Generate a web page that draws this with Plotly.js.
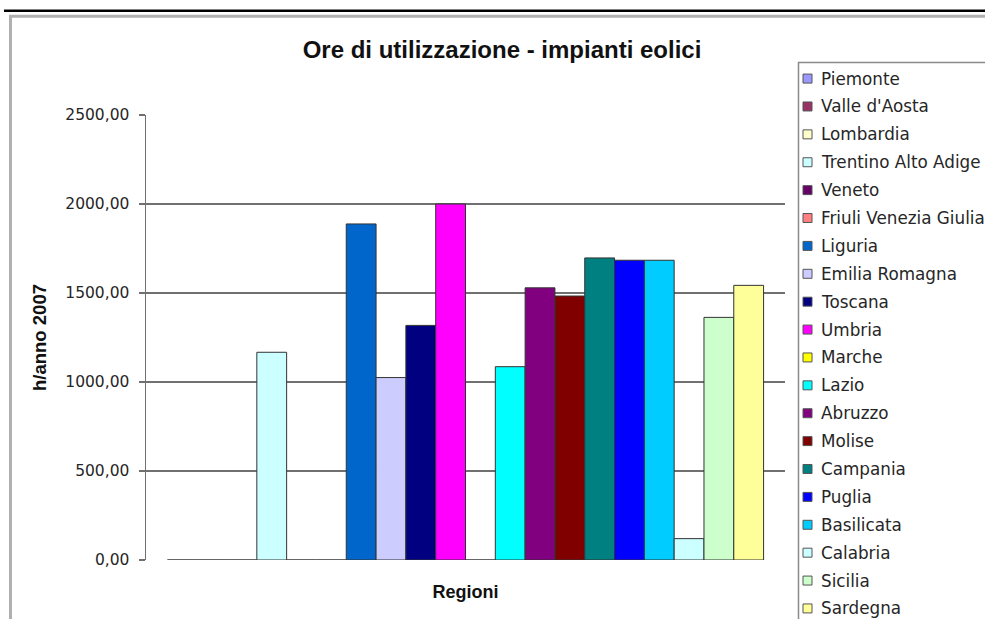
<!DOCTYPE html>
<html>
<head>
<meta charset="utf-8">
<script src="https://cdn.plot.ly/plotly-3.0.1.min.js"></script>
<style>
  html, body { margin: 0; padding: 0; background: #ffffff; }
  #chart { width: 985px; height: 619px; }
</style>
</head>
<body>
<div id="chart"></div>
<script>
// Ore di utilizzazione degli impianti eolici per regione (h/anno, 2007)
const regioni = [
  "Piemonte", "Valle d'Aosta", "Lombardia", "Trentino Alto Adige", "Veneto",
  "Friuli Venezia Giulia", "Liguria", "Emilia Romagna", "Toscana", "Umbria",
  "Marche", "Lazio", "Abruzzo", "Molise", "Campania",
  "Puglia", "Basilicata", "Calabria", "Sicilia", "Sardegna"
];
const oreAnno = [
  0, 0, 0, 1167, 0,
  0, 1888, 1025, 1318, 2000,
  0, 1086, 1529, 1483, 1697,
  1684, 1684, 120, 1363, 1543
];
const colori = [
  "#9999FF", "#993366", "#FFFFCC", "#CCFFFF", "#660066",
  "#FF8080", "#0066CC", "#CCCCFF", "#000080", "#FF00FF",
  "#FFFF00", "#00FFFF", "#800080", "#800000", "#008080",
  "#0000FF", "#00CCFF", "#CCFFFF", "#CCFFCC", "#FFFF99"
];
const categoria = ["Regioni"];
const yTicks = [0, 500, 1000, 1500, 2000, 2500];

// plot area in pixels (used to place the decorations in paper units)
const W = 985, H = 619;
const M = { l: 146, r: 200, t: 114.5, b: 58.5 };
const pw = W - M.l - M.r, ph = H - M.t - M.b;
const px = x => (x - M.l) / pw;
const py = y => (H - M.b - y) / ph;

const traces = regioni.map((nome, i) => ({
  type: "bar",
  name: nome,
  x: categoria,
  y: [oreAnno[i]],
  marker: { color: colori[i], line: { color: "#333333", width: 1 } },
  showlegend: false,
  hoverinfo: "name+y"
}));

const shapes = [
  // top rule and outer frame
  { type: "line", xref: "paper", yref: "paper", x0: px(4), x1: px(990), y0: py(10), y1: py(10),
    line: { color: "#000000", width: 2.5 } },
  { type: "rect", xref: "paper", yref: "paper", x0: px(10.5), x1: px(1000), y0: py(15.5), y1: py(640),
    line: { color: "#b0b0b0", width: 3 } },
  // legend frame
  { type: "rect", xref: "paper", yref: "paper", x0: px(798.5), x1: px(1000), y0: py(62), y1: py(640),
    line: { color: "#8a8a8a", width: 1.5 } }
];
const annotations = [];

// legend entries: swatch + label
const legTop = 78, legStep = 27.95;
regioni.forEach((nome, i) => {
  const cy = legTop + i * legStep;
  shapes.push({
    type: "rect", xref: "paper", yref: "paper",
    x0: px(803), x1: px(812), y0: py(cy + 4.5), y1: py(cy - 4.5),
    fillcolor: colori[i], line: { color: "#555555", width: 1 }
  });
  annotations.push({
    xref: "paper", yref: "paper", x: px(819), y: py(cy),
    xanchor: "left", yanchor: "middle", showarrow: false,
    text: nome, font: { family: "DejaVu Sans, sans-serif", size: 16.8, color: "#262626" }
  });
});

const layout = {
  width: W, height: H,
  margin: M,
  paper_bgcolor: "#ffffff",
  plot_bgcolor: "#ffffff",
  separators: ",.",
  barmode: "group",
  bargap: 0.067,
  bargroupgap: 0,
  showlegend: false,
  title: {
    text: "Ore di utilizzazione - impianti eolici",
    font: { family: "Liberation Sans, Arial, sans-serif", size: 24, color: "#111111", weight: "bold" },
    x: 502 / W, xanchor: "center", xref: "container",
    y: 1 - 50 / H, yanchor: "middle", yref: "container"
  },
  xaxis: {
    type: "category",
    range: [-0.5, 0.5],
    showticklabels: false,
    ticks: "",
    showgrid: false,
    zeroline: false,
    showline: false,
    fixedrange: true,
    title: {
      text: "Regioni",
      standoff: 25,
      font: { family: "Liberation Sans, Arial, sans-serif", size: 18, color: "#111111", weight: "bold" }
    }
  },
  yaxis: {
    range: [0, 2500],
    tickvals: yTicks,
    tickformat: ".2f",
    ticks: "outside",
    ticklen: 6,
    tickwidth: 1.5,
    tickcolor: "#707070",
    showline: true,
    linecolor: "#707070",
    linewidth: 1.5,
    showgrid: true,
    gridcolor: "#707070",
    gridwidth: 1.5,
    zeroline: false,
    fixedrange: true,
    automargin: false,
    tickfont: { family: "DejaVu Sans, sans-serif", size: 15.5, color: "#262626" },
    ticklabelstandoff: 6,
    title: {
      text: "h/anno 2007",
      standoff: 14,
      font: { family: "Liberation Sans, Arial, sans-serif", size: 18.5, color: "#111111", weight: "bold" }
    }
  },
  shapes: shapes,
  annotations: annotations
};

Plotly.newPlot("chart", traces, layout, { displayModeBar: false, staticPlot: true });
</script>
</body>
</html>
